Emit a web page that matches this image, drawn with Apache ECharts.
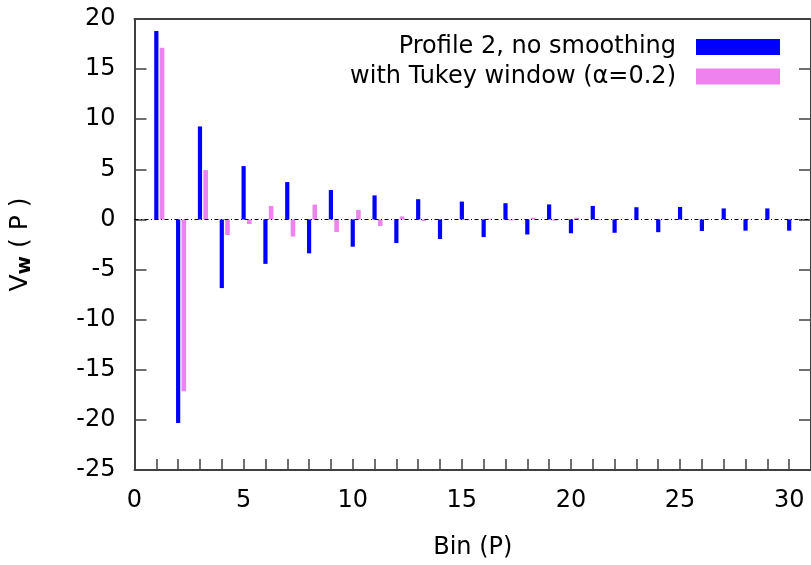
<!DOCTYPE html>
<html>
<head>
<meta charset="utf-8">
<script src="https://cdn.jsdelivr.net/npm/echarts@6/dist/echarts.min.js"></script>
<style>html,body{margin:0;padding:0;background:#fff}#c{width:811px;height:565px}</style>
</head>
<body>
<div id="c"></div>
<script>
var bins = [1,2,3,4,5,6,7,8,9,10,11,12,13,14,15,16,17,18,19,20,21,22,23,24,25,26,27,28,29,30];
var profileRaw = [18.8,-20.3,9.28,-6.85,5.32,-4.43,3.73,-3.38,2.94,-2.72,2.4,-2.35,2.02,-1.95,1.78,-1.76,1.62,-1.5,1.5,-1.38,1.35,-1.33,1.22,-1.27,1.24,-1.15,1.1,-1.12,1.1,-1.12];
var profileTukey = [17.12,-17.15,4.92,-1.55,-0.46,1.35,-1.7,1.48,-1.25,0.95,-0.65,0.3,-0.15,0.04,-0.07,0.07,-0.1,0.17,-0.12,0.17,-0.07,0.04,0,0.03,0,0.03,0,0.02,0,0.02];
var yTicks = [-25,-20,-15,-10,-5,0,5,10,15,20];
var xLabels = [0,5,10,15,20,25,30];
var seriesNames = ['Profile 2, no smoothing', 'with Tukey window (\u03b1=0.2)'];

var FONT = 'DejaVu Sans';
var AX = '#404040';

function pairs(vals){ return bins.map(function(b,i){ return [b, vals[i]]; }); }
function barRenderer(offsetPx, widthPx, color){
  return function(params, api){
    var x = api.value(0), y = api.value(1);
    var p0 = api.coord([x, 0]);
    var p1 = api.coord([x, y]);
    return {
      type: 'rect',
      shape: { x: p0[0] + offsetPx - widthPx/2, y: Math.min(p0[1], p1[1]), width: widthPx, height: Math.abs(p1[1]-p0[1]) },
      style: { fill: color }
    };
  };
}

var chart = echarts.init(document.getElementById('c'), null, {renderer:'canvas'});
chart.setOption({
  animation: false,
  backgroundColor: '#fff',
  grid: { left: 131, top: 19, width: 683, height: 453.5, containLabel: false },
  legend: {
    orient: 'vertical', right: 31, top: 33, align: 'right', padding: 0,
    itemWidth: 84, itemHeight: 16, itemGap: 1.5, icon: 'rect',
    textStyle: { fontSize: 24, fontFamily: FONT, color: '#000', lineHeight: 28, padding: [0, 15, 0, 0] },
    data: seriesNames
  },
  xAxis: [{
    type: 'value', min: 0, max: 31, interval: 1, position: 'bottom',
    name: 'Bin (P)', nameLocation: 'middle', nameGap: 66,
    nameTextStyle: { fontSize: 24, fontFamily: FONT, color: '#000' },
    axisLine: { show: true, onZero: false, lineStyle: { color: AX, width: 2 } },
    axisTick: { show: true, inside: true, length: 11, lineStyle: { color: AX, width: 1.5 } },
    axisLabel: { fontSize: 24, fontFamily: FONT, color: '#000', margin: 19, showMaxLabel: false,
      formatter: function(v){ return xLabels.indexOf(v) >= 0 ? String(v) : ''; } },
    splitLine: { show: false }
  },{
    type: 'value', min: 0, max: 31, position: 'top',
    axisLine: { show: true, onZero: false, lineStyle: { color: AX, width: 2 } },
    axisTick: { show: false }, axisLabel: { show: false }, splitLine: { show: false }
  }],
  yAxis: [{
    type: 'value', min: -25, max: 20, interval: 5, position: 'left',
    name: '{a|V}{b|w}{a| ( P )}', nameLocation: 'middle', nameGap: 100, nameRotate: 90,
    nameTextStyle: { color: '#000', rich: {
      a: { fontSize: 25, fontFamily: FONT, color: '#000' },
      b: { fontSize: 20, fontFamily: FONT, fontWeight: 'bold', color: '#000', padding: [8,0,0,0], verticalAlign: 'bottom' }
    } },
    axisLine: { show: true, onZero: false, lineStyle: { color: AX, width: 2 } },
    axisTick: { show: true, inside: true, length: 12, lineStyle: { color: AX, width: 1.5 } },
    axisLabel: { fontSize: 24, fontFamily: FONT, color: '#000', margin: 19,
      formatter: function(v){ return yTicks.indexOf(v) >= 0 ? String(v) : ''; } },
    splitLine: { show: false }
  },{
    type: 'value', min: -25, max: 20, interval: 5, position: 'right',
    axisLine: { show: true, onZero: false, lineStyle: { color: AX, width: 2 } },
    axisTick: { show: true, inside: true, length: 12, lineStyle: { color: AX, width: 1.5 } },
    axisLabel: { show: false }, splitLine: { show: false }
  }],
  series: [{
    name: seriesNames[0], type: 'custom', xAxisIndex: 0, yAxisIndex: 0,
    itemStyle: { color: '#0000ff' },
    renderItem: barRenderer(0, 4.2, '#0000ff'),
    encode: { x: 0, y: 1 },
    data: pairs(profileRaw),
    z: 3
  },{
    name: seriesNames[1], type: 'custom', xAxisIndex: 0, yAxisIndex: 0,
    itemStyle: { color: '#ee82ee' },
    renderItem: barRenderer(5.7, 4.6, '#ee82ee'),
    encode: { x: 0, y: 1 },
    data: pairs(profileTukey),
    z: 2,
    markLine: {
      silent: true, symbol: 'none', label: { show: false },
      lineStyle: { color: '#000', width: 1.2, type: [4, 2.5, 1, 2.5] },
      data: [{ yAxis: 0 }],
      z: 5
    }
  }]
});
</script>
</body>
</html>
